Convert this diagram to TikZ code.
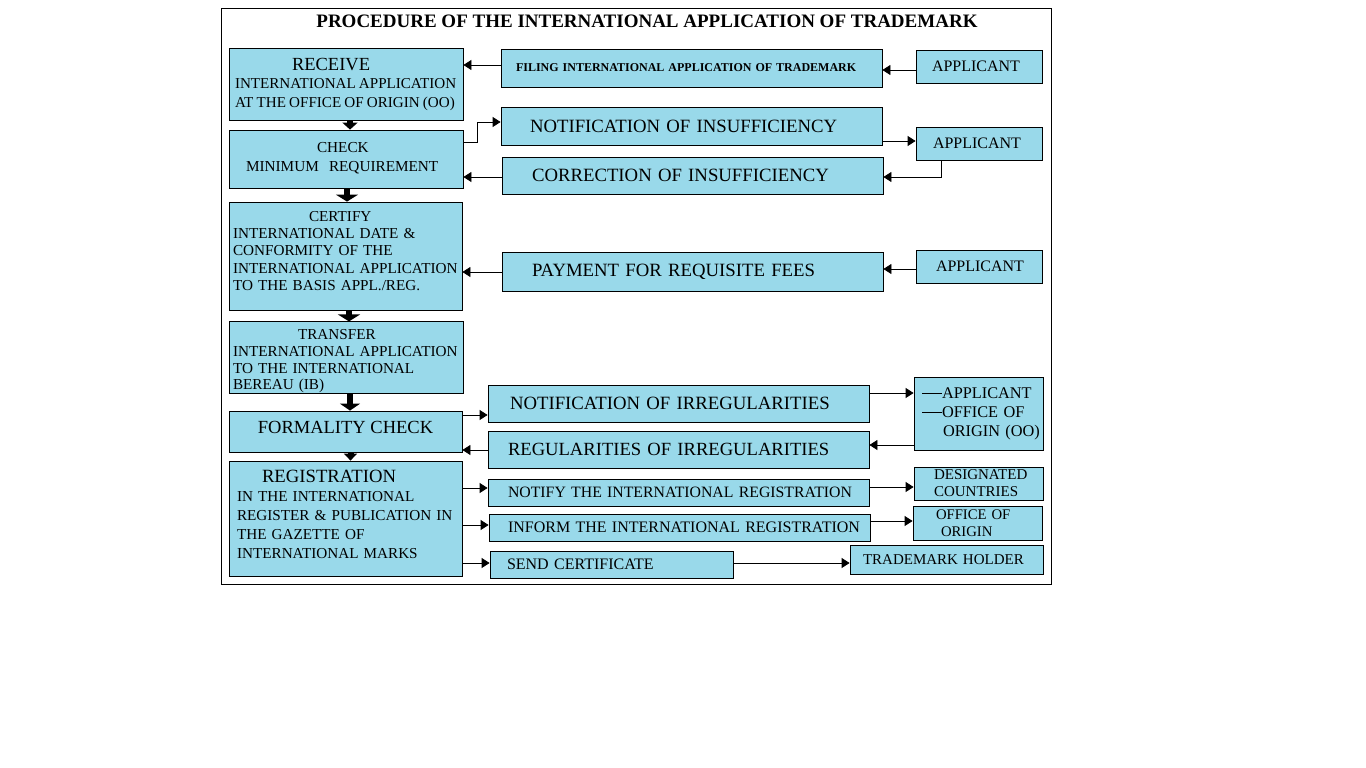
\documentclass[tikz,border=0pt]{standalone}
\usepackage{fontspec}
\setmainfont{Liberation Serif}
\usetikzlibrary{arrows.meta}
\definecolor{boxblue}{RGB}{153,217,234}

\begin{document}
\begin{tikzpicture}[x=1pt,y=-1pt,
  box/.style={draw, fill=boxblue, inner sep=0pt, align=left, line width=0.8pt},
  arr/.style={-{Triangle[length=8pt,width=10pt]}, line width=0.8pt},
  bigarr/.style={line width=6pt, -{Triangle[length=7pt,width=#1]}},
  bigarr/.default=18pt]
\useasboundingbox (0,0) rectangle (1366,768);
\draw[line width=0.8pt] (221,8) rectangle (1051,584);

\node[font=\fontsize{19}{23}\selectfont\bfseries] (title) at (647,21.5) {PROCEDURE OF THE INTERNATIONAL APPLICATION OF TRADEMARK};

% left column
\node[box, minimum width=234, minimum height=72, text width=232, font=\fontsize{15.1}{18.5}\selectfont] (receive) at (346,84)
  {\spaceskip=3.2pt\relax\hspace*{62pt}{\fontsize{18.5}{19}\selectfont RECEIVE}\\\hspace*{5pt}INTERNATIONAL APPLICATION\\\hspace*{5pt}AT THE OFFICE OF ORIGIN (OO)};
\node[box, minimum width=234, minimum height=58, text width=232, font=\fontsize{15.25}{19}\selectfont] (check) at (346,159)
  {\hspace*{87pt}CHECK\\\hspace*{16pt}MINIMUM\ \ REQUIREMENT\\[-15pt]\mbox{}};
\node[box, minimum width=233, minimum height=108, text width=231, font=\fontsize{15.2}{17.3}\selectfont] (certify) at (345.5,256)
  {\hspace*{79pt}CERTIFY\\\hspace*{3pt}INTERNATIONAL DATE \&\\\hspace*{3pt}CONFORMITY OF THE\\\hspace*{3pt}INTERNATIONAL APPLICATION\\\hspace*{3pt}TO THE BASIS APPL./REG.\\[-7pt]\mbox{}};
\node[box, minimum width=234, minimum height=71, text width=232, font=\fontsize{15.2}{16.7}\selectfont] (transfer) at (346,357.5)
  {\rule{0pt}{18pt}\hspace*{68pt}TRANSFER\\\hspace*{3pt}INTERNATIONAL APPLICATION\\\hspace*{3pt}TO THE INTERNATIONAL\\\hspace*{3pt}BEREAU (IB)};
\node[box, minimum width=233, minimum height=41, font=\fontsize{18.5}{22}\selectfont, text height=12.2pt, text depth=9pt] (formality) at (345.5,431.5)
  {FORMALITY CHECK};
\node[box, minimum width=233, minimum height=115, text width=231, font=\fontsize{15.2}{19}\selectfont] (regist) at (345.5,518.5)
  {\hspace*{32pt}{\fontsize{18.7}{19}\selectfont REGISTRATION}\\\hspace*{7pt}IN THE INTERNATIONAL\\\hspace*{7pt}REGISTER \& PUBLICATION IN\\\hspace*{7pt}THE GAZETTE OF\\\hspace*{7pt}INTERNATIONAL MARKS\\[-10pt]\mbox{}};

% middle column
\node[box, minimum width=381, minimum height=38, text width=379, font=\fontsize{12}{14}\selectfont\bfseries] (filing) at (691.5,68)
  {\hspace*{14pt}FILING INTERNATIONAL APPLICATION OF TRADEMARK};
\node[box, minimum width=381, minimum height=38, text width=379, font=\fontsize{18.75}{21}\selectfont] (ninsuf) at (691.5,126)
  {\hspace*{28pt}NOTIFICATION OF INSUFFICIENCY};
\node[box, minimum width=381, minimum height=37, text width=379, font=\fontsize{18.75}{21}\selectfont] (corr) at (692.5,175.5)
  {\hspace*{29pt}CORRECTION OF INSUFFICIENCY};
\node[box, minimum width=381, minimum height=39, text width=379, font=\fontsize{18.75}{21}\selectfont] (pay) at (692.5,271.5)
  {\hspace*{29pt}PAYMENT FOR REQUISITE FEES};
\node[box, minimum width=381, minimum height=37, text width=379, font=\fontsize{18.75}{21}\selectfont] (nirreg) at (678.5,403.5)
  {\hspace*{21pt}NOTIFICATION OF IRREGULARITIES};
\node[box, minimum width=381, minimum height=37, text width=379, font=\fontsize{18.6}{21}\selectfont] (regular) at (678.5,449.5)
  {\hspace*{19pt}REGULARITIES OF IRREGULARITIES};
\node[box, minimum width=381, minimum height=27, text width=379, font=\fontsize{15.8}{19}\selectfont] (notify) at (678.5,492.5)
  {\hspace*{19pt}NOTIFY THE INTERNATIONAL REGISTRATION};
\node[box, minimum width=381, minimum height=27, text width=379, font=\fontsize{16}{19}\selectfont] (inform) at (679.5,527.5)
  {\hspace*{18pt}INFORM THE INTERNATIONAL REGISTRATION};
\node[box, minimum width=243, minimum height=27, text width=241, font=\fontsize{16}{19}\selectfont] (send) at (611.5,564.5)
  {\hspace*{16pt}SEND CERTIFICATE};

% right column
\node[box, minimum width=126, minimum height=33, text width=124, font=\fontsize{16}{19}\selectfont] (app1) at (979,66.5) {\hspace*{15pt}APPLICANT};
\node[box, minimum width=126, minimum height=33, text width=124, font=\fontsize{16}{19}\selectfont] (app2) at (979,143.5) {\hspace*{16pt}APPLICANT};
\node[box, minimum width=126, minimum height=33, text width=124, font=\fontsize{16}{19}\selectfont] (app3) at (979,266.5) {\hspace*{19pt}APPLICANT};
\node[box, minimum width=129, minimum height=73, text width=127, font=\fontsize{16.3}{19}\selectfont] (appoo) at (978.5,413.5)
  {\hspace*{7pt}\rule[4pt]{20pt}{0.8pt}APPLICANT\\\hspace*{7pt}\rule[4pt]{20pt}{0.8pt}OFFICE OF\\\hspace*{28pt}ORIGIN (OO)};
\node[box, minimum width=129, minimum height=33, text width=127, font=\fontsize{15}{17}\selectfont] (desig) at (978.5,483.5)
  {\hspace*{19pt}DESIGNATED\\\hspace*{19pt}COUNTRIES};
\node[box, minimum width=129, minimum height=34, text width=127, font=\fontsize{14.7}{17}\selectfont] (oo) at (977.5,523)
  {\hspace*{22pt}OFFICE OF\\\hspace*{27pt}ORIGIN};
\node[box, minimum width=193, minimum height=29, text width=191, font=\fontsize{15}{18}\selectfont] (holder) at (946.5,559.5)
  {\hspace*{12pt}TRADEMARK HOLDER};

% thick arrows down the left column
\draw[bigarr=15pt] ([xshift=4pt]receive.south) -- ([xshift=4pt]receive.south |- check.north);
\draw[bigarr=22pt] ([xshift=1pt]check.south) -- ([xshift=1pt]check.south |- certify.north);
\draw[bigarr=22pt] ([xshift=3.5pt]certify.south) -- ([xshift=3.5pt]certify.south |- transfer.north);
\draw[bigarr=20pt] ([xshift=4pt]transfer.south) -- ([xshift=4pt]transfer.south |- formality.north);
\draw[bigarr=13pt] ([xshift=5pt]formality.south) -- ([xshift=5pt]formality.south |- regist.north);

% connectors
\draw[arr] (app1.west |- 0,70) -- (filing.east |- 0,70);
\draw[arr] (filing.west |- 0,65) -- (receive.east |- 0,65);
\draw[arr] (check.east |- 0,142) -| ++(14,-20) -- (ninsuf.west |- 0,122);
\draw[arr] (ninsuf.east |- 0,141) -- (app2.west |- 0,141);
\draw[arr] (app2.south -| 941,0) |- (corr.east |- 0,177);
\draw[arr] (corr.west |- 0,177) -- (check.east |- 0,177);
\draw[arr] (app3.west |- 0,269) -- (pay.east |- 0,269);
\draw[arr] (pay.west |- 0,272) -- (certify.east |- 0,272);
\draw[arr] (formality.east |- 0,415) -- (nirreg.west |- 0,415);
\draw[arr] (nirreg.east |- 0,393) -- (appoo.west |- 0,393);
\draw[arr] (appoo.west |- 0,445) -- (regular.east |- 0,445);
\draw[arr] (regular.west |- 0,450) -- (formality.east |- 0,450);
\draw[arr] (regist.east |- 0,488) -- (notify.west |- 0,488);
\draw[arr] (notify.east |- 0,487) -- (desig.west |- 0,487);
\draw[arr] (regist.east |- 0,525) -- (inform.west |- 0,525);
\draw[arr] (inform.east |- 0,521) -- (oo.west |- 0,521);
\draw[arr] (regist.east |- 0,563) -- (send.west |- 0,563);
\draw[arr] (send.east |- 0,563) -- (holder.west |- 0,563);
\end{tikzpicture}
\end{document}
